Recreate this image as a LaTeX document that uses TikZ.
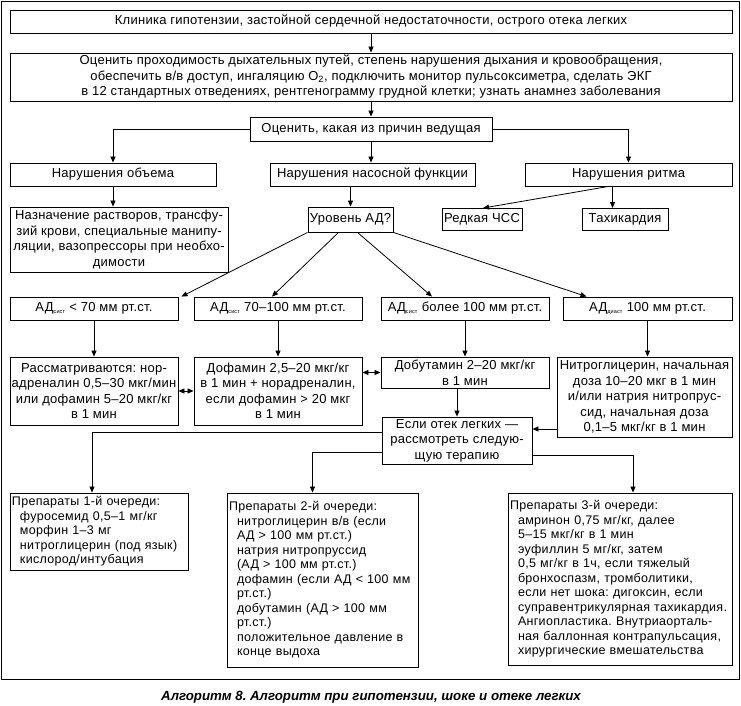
\documentclass[tikz,border=0pt]{standalone}
\usepackage{fontspec}
\setmainfont{Liberation Sans}
\newfontfamily\boxf[LetterSpace=2]{Liberation Sans}
\newfontfamily\drugf[LetterSpace=2.5]{Liberation Sans}
\usetikzlibrary{positioning,arrows.meta}
\frenchspacing
\newcommand{\indt}{\hspace*{8pt}}
\newcommand{\sbs}[1]{\textsubscript{\fontsize{5.5}{6}\selectfont #1}}
\tikzset{
  arrow/.style={-{Triangle[length=6pt,width=5pt]}, line width=0.8pt},
  twoway/.style={{Triangle[length=6pt,width=5pt]}-{Triangle[length=6pt,width=5pt]}, line width=0.8pt},
  link/.style={line width=0.8pt}
}

\begin{document}
\begin{tikzpicture}[x=1pt, y=-1pt]
  \tikzset{
    blk/.style={draw, line width=0.9pt, align=center, inner sep=1pt, font=\boxf\fontsize{13}{15.5}\selectfont},
    drug/.style={draw, line width=0.9pt, align=left, inner xsep=2pt, inner ysep=2pt, text width=#1, font=\drugf\fontsize{12.5}{14.5}\selectfont}
  }
  \useasboundingbox (0,0) rectangle (741,706);
  \draw[line width=0.9pt] (1,1) rectangle (739,679);

  \node[blk, minimum width=722, minimum height=23] (clin) at (371,21.5) {Клиника гипотензии, застойной сердечной недостаточности, острого отека легких};
  \node[blk, minimum width=722, minimum height=48] (assess) at (371,77) {Оценить проходимость дыхательных путей, степень нарушения дыхания и кровообращения,\\обеспечить в/в доступ, ингаляцию О\textsubscript{2}, подключить монитор пульсоксиметра, сделать ЭКГ\\в 12 стандартных отведениях, рентгенограмму грудной клетки; узнать анамнез заболевания};
  \node[blk, minimum width=242, minimum height=24] (cause) at (371,129) {Оценить, какая из причин ведущая};

  \node[blk, minimum width=206, minimum height=23] (vol) at (113,174.5) {Нарушения объема};
  \node[blk, minimum width=205, minimum height=23] (pump) at (372.5,174.5) {Нарушения насосной функции};
  \node[blk, minimum width=207, minimum height=23] (rhythm) at (628.5,174.5) {Нарушения ритма};

  \node[blk, minimum width=218, minimum height=65] (fluids) at (119,239.5) {Назначение растворов, трансфу-\\зий крови, специальные манипу-\\ляции, вазопрессоры при необхо-\\димости};
  \node[blk, minimum width=85, minimum height=25] (bp) at (350.5,219.5) {Уровень АД?};
  \node[blk, minimum width=80, minimum height=22] (brady) at (482,219.5) {Редкая ЧСС};
  \node[blk, minimum width=86, minimum height=22] (tachy) at (625,219.5) {Тахикардия};

  \node[blk, minimum width=168, minimum height=23] (low) at (94,308.5) {АД\sbs{сист} < 70 мм рт.ст.};
  \node[blk, minimum width=168, minimum height=23] (mid) at (278,308.5) {АД\sbs{сист} 70–100 мм рт.ст.};
  \node[blk, minimum width=168, minimum height=23] (high) at (465,308.5) {АД\sbs{сист} более 100 мм рт.ст.};
  \node[blk, minimum width=169, minimum height=23] (diast) at (647.5,308.5) {АД\sbs{диаст} 100 мм рт.ст.};

  \node[blk, minimum width=168, minimum height=68] (norad) at (94,391) {Рассматриваются: нор-\\адреналин 0,5–30 мкг/мин\\или дофамин 5–20 мкг/кг\\в 1 мин};
  \node[blk, minimum width=168, minimum height=68] (dopa) at (278,391) {Дофамин 2,5–20 мкг/кг\\в 1 мин + норадреналин,\\если дофамин > 20 мкг\\в 1 мин};
  \node[blk, minimum width=168, minimum height=31] (dobu) at (465,372.5) {Добутамин 2–20 мкг/кг\\в 1 мин};
  \node[blk, minimum width=175, minimum height=80] (nitro) at (644.5,397) {Нитроглицерин, начальная\\доза 10–20 мкг в 1 мин\\и/или натрия нитропрус-\\сид, начальная доза\\0,1–5 мкг/кг в 1 мин};
  \node[blk, minimum width=150, minimum height=47] (edema) at (457,440.5) {Если отек легких —\\рассмотреть следую-\\щую терапию};

  \node[drug=174pt, minimum height=77] (first) at (99,531.5) {Препараты 1-й очереди:\\\indt фуросемид 0,5–1 мг/кг\\\indt морфин 1–3 мг\\\indt нитроглицерин (под язык)\\\indt кислород/интубация};
  \node[drug=187pt, minimum height=174] (second) at (322.5,580) {Препараты 2-й очереди:\\\indt нитроглицерин в/в (если\\\indt АД > 100 мм рт.ст.)\\\indt натрия нитропруссид\\\indt (АД > 100 мм рт.ст.)\\\indt дофамин (если АД < 100 мм\\\indt рт.ст.)\\\indt добутамин (АД > 100 мм\\\indt рт.ст.)\\\indt положительное давление в\\\indt конце выдоха};
  \node[drug=220pt, minimum height=172] (third) at (620,579) {Препараты 3-й очереди:\\\indt амринон 0,75 мг/кг, далее\\\indt 5–15 мкг/кг в 1 мин\\\indt эуфиллин 5 мг/кг, затем\\\indt 0,5 мг/кг в 1ч, если тяжелый\\\indt бронхоспазм, тромболитики,\\\indt если нет шока: дигоксин, если\\\indt суправентрикулярная тахикардия.\\\indt Ангиопластика. Внутриаорталь-\\\indt ная баллонная контрапульсация,\\\indt хирургические вмешательства};

  \node[font=\bfseries\itshape\fontsize{13.3}{15}\selectfont] (title) at (371,697) {Алгоритм 8. Алгоритм при гипотензии, шоке и отеке легких};

  \draw[arrow] (clin) -- (assess);
  \draw[arrow] (assess) -- (cause);
  \draw[arrow] (cause.south) -- (cause.south |- pump.north);
  \draw[arrow] (cause.west) -| (vol.north);
  \draw[arrow] (cause.east) -| (rhythm.north);
  \draw[arrow] (vol.south) -- (vol.south |- fluids.north);
  \draw[arrow] (bp.north |- pump.south) -- (bp.north);

  \coordinate (split) at ([xshift=-20pt]rhythm.south);
  \draw[arrow] (split) -- ([xshift=1pt]brady.north);
  \draw[arrow] ([xshift=4pt]split) -- ([xshift=4pt]split |- tachy.north);

  \draw[arrow] (bp.south west) -- ([xshift=3pt]low.north east);
  \draw[arrow] ([xshift=-12pt]bp.south) -- ([xshift=-6pt]mid.north);
  \draw[arrow] ([xshift=7pt]bp.south) -- ([xshift=-33pt]high.north);
  \draw[arrow] (bp.south east) -- ([xshift=-61pt]diast.north);

  \draw[arrow] (low) -- (norad);
  \draw[arrow] (mid) -- (dopa);
  \draw[arrow] (high) -- (dobu);
  \draw[arrow] (diast.south) -- (diast.south |- nitro.north);

  \draw[twoway] (norad) -- (dopa);
  \draw[twoway] (dopa.east |- dobu.west) -- (dobu.west);
  \draw[arrow] (dobu.south -| edema.north) -- (edema.north);
  \draw[arrow] (nitro.west |- 0,429) -- (edema.east |- 0,429);

  \draw[arrow] (edema.west |- 0,432) -| ([xshift=-7pt]first.north);
  \draw[arrow] (edema.west |- 0,452) -| ([xshift=-10pt]second.north);
  \draw[arrow] (edema.east |- 0,455) -| ([xshift=13pt]third.north);
\end{tikzpicture}
\end{document}
